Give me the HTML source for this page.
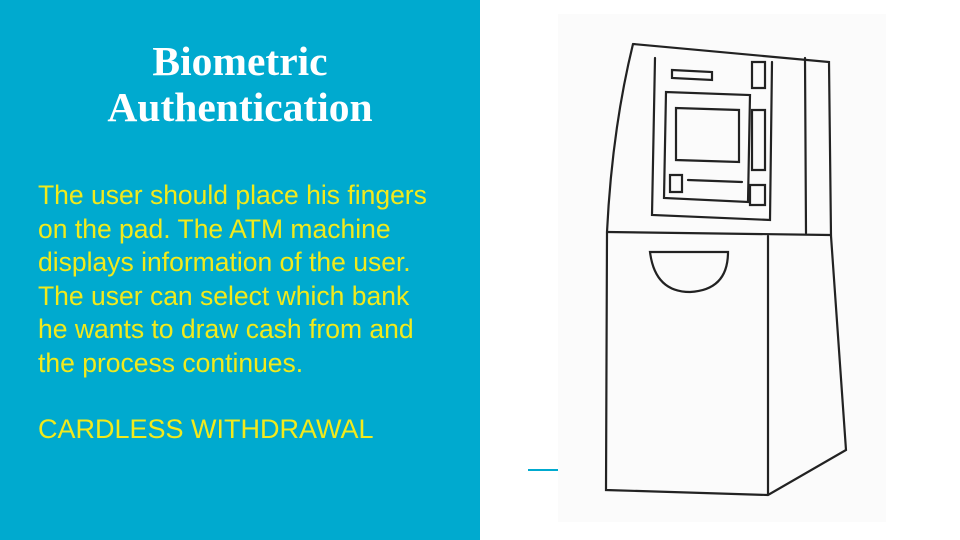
<!DOCTYPE html>
<html><head><meta charset="utf-8"><style>
html,body{margin:0;padding:0;width:960px;height:540px;overflow:hidden;background:#fff}
#left{position:absolute;left:0;top:0;width:480px;height:540px;background:#00AACF}
#title{position:absolute;left:0;top:38px;width:480px;text-align:center;color:#fff;font-family:"Liberation Serif",serif;font-weight:bold;font-size:41.5px;line-height:46px}
#body{position:absolute;left:38px;top:179px;width:440px;white-space:nowrap;color:#F2EA1B;font-family:"Liberation Sans",sans-serif;font-size:26.5px;line-height:33.6px}
#cardless{position:absolute;left:38px;top:414px;white-space:nowrap;color:#F2EA1B;font-family:"Liberation Sans",sans-serif;font-size:27px}
#accent{position:absolute;left:528px;top:469px;width:34px;height:2px;background:#00AACF}
#photo{position:absolute;left:558px;top:14px;width:328px;height:508px;background:#fbfbfb}
svg{position:absolute;left:0;top:0}
</style></head><body>
<div id="left"></div>
<div id="title">Biometric<br>Authentication</div>
<div id="body">The user should place his fingers<br>on the pad. The ATM machine<br>displays information of the user.<br>The user can select which bank<br>he wants to draw cash from and<br>the process continues.</div>
<div id="cardless">CARDLESS WITHDRAWAL</div>
<div id="accent"></div>
<div id="photo"></div>
<svg width="960" height="540" fill="none" stroke="#222" stroke-width="2.2" stroke-linecap="round">
<path d="M633 44 Q612 130 607 232 L606 490 L768 495 L846 450 L831 236 L829 62 L633 44"/>
<path d="M607 232 L830 235"/>
<path d="M768 236 L768 494"/>
<path d="M805 58 L806 233"/>
<path d="M655 58 L652 215 L770 220 L772 62"/>
<path d="M666 92 L664 198 L748 202 L750 95 Z"/>
<path d="M676 108 L676 160 L739 162 L739 110 Z"/>
<path d="M672 70 L712 72 L712 80 L672 78 Z"/>
<path d="M752 62 L765 62 L765 88 L752 88 Z"/>
<path d="M752 110 L765 110 L765 170 L752 170 Z"/>
<path d="M750 185 L765 185 L765 205 L750 205 Z"/>
<path d="M670 175 L682 175 L682 192 L670 192 Z"/>
<path d="M688 180 L742 182"/>
<path d="M650 252 L728 252 Q728 290 690 292 Q655 292 650 252 Z"/>
</svg>
</body></html>
